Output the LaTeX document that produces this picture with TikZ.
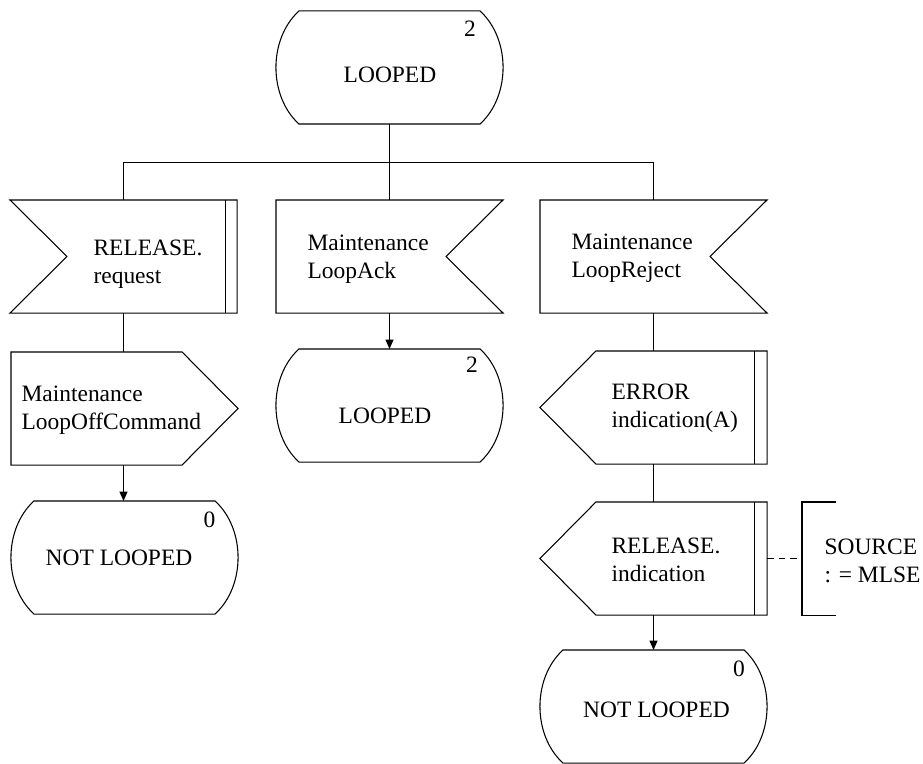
\documentclass[tikz,border=0pt]{standalone}
\usepackage{fontspec}
\setmainfont{Liberation Serif}
\usepackage{tikz}
\usetikzlibrary{positioning,calc,arrows.meta}

\begin{document}
\begin{tikzpicture}[
  x=0.75pt, y=-0.75pt,
  line width=0.8pt,
  every node/.style={font=\fontsize{17.6}{21}\selectfont, inner sep=0pt},
  symbox/.style={minimum width=169.5pt, minimum height=84pt},
  lbl/.style={align=left, anchor=west},
  flow/.style={-{Triangle[length=7pt,width=6pt]}},
  note/.style={dash pattern=on 5pt off 3.75pt}
]
  \useasboundingbox (0,0) rectangle (923,763);

  % symbol frames (outlines drawn further down)
  \node[symbox] (s0)   at (389.5,67.5) {};
  \node[symbox] (in1)  at (123.5,256.5) {};
  \node[symbox] (in2)  at (389.5,256.5) {};
  \node[symbox] (in3)  at (653.5,256.5) {};
  \node[symbox] (out1) at (124.5,408.5) {};
  \node[symbox] (s1)   at (389.5,405.5) {};
  \node[symbox] (s2)   at (124.5,557.5) {};
  \node[symbox] (err)  at (653.5,407.5) {};
  \node[symbox] (rel)  at (653.5,558.5) {};
  \node[symbox] (s3)   at (653.5,706.5) {};
  \node[minimum width=24.75pt, minimum height=84pt] (cmt) at (819,558.5) {};
  \coordinate (fork) at (389.5,162.5);

  % states
  \foreach \n in {s0,s1,s2,s3}
    \draw ($(\n.north west)+(23,0)$) -- ($(\n.north east)+(-23,0)$)
      .. controls +(30.7,28) and +(30.7,-28) .. ($(\n.south east)+(-23,0)$)
      -- ($(\n.south west)+(23,0)$)
      .. controls +(-30.7,-28) and +(-30.7,28) .. cycle;

  % inputs
  \draw (in1.north west) -- (in1.north east) -- (in1.south east) -- (in1.south west)
    -- ($(in1.west)+(57,0)$) -- cycle;
  \draw ($(in1.north east)+(-12,0)$) -- ($(in1.south east)+(-12,0)$);
  \foreach \n in {in2,in3}
    \draw (\n.north west) -- (\n.north east) -- ($(\n.east)+(-57,0)$)
      -- (\n.south east) -- (\n.south west) -- cycle;

  % outputs
  \draw (out1.north west) -- ($(out1.north east)+(-56,0)$) -- (out1.east)
    -- ($(out1.south east)+(-56,0)$) -- (out1.south west) -- cycle;
  \foreach \n in {err,rel} {
    \draw (\n.north east) -- ($(\n.north west)+(56,0)$) -- (\n.west)
      -- ($(\n.south west)+(56,0)$) -- (\n.south east) -- cycle;
    \draw ($(\n.north east)+(-13,0)$) -- ($(\n.south east)+(-13,0)$);
  }

  % comment bracket
  \draw (cmt.north east) -- (cmt.north west) -- (cmt.south west) -- (cmt.south east);

  % texts
  \node (s0t) at (390,75) {LOOPED};
  \node (s0n) at (470,29) {2};
  \node[lbl] (in1t) at (93,264.5) {RELEASE.\\request};
  \node[lbl] (in2t) at (307,259) {Maintenance\\LoopAck};
  \node[lbl] (in3t) at (571,258) {Maintenance\\LoopReject};
  \node[lbl] (out1t) at (21,410) {Maintenance\\LoopOffCommand};
  \node (s1t) at (385,415.5) {LOOPED};
  \node (s1n) at (472,365) {2};
  \node (s2t) at (119,557.5) {NOT LOOPED};
  \node (s2n) at (209.5,519.5) {0};
  \node[lbl] (errt) at (611,408.5) {ERROR\\indication(A)};
  \node[lbl] (relt) at (611,559.5) {RELEASE.\\indication};
  \node[lbl] (cmtt) at (824,560.5) {SOURCE\\: = MLSE};
  \node (s3t) at (656.5,709.5) {NOT LOOPED};
  \node (s3n) at (739,668.5) {0};

  % connections
  \draw (s0.south) -- (fork);
  \draw (in1.north) |- (fork) -| (in3.north);
  \draw (fork) -- (in2.north);
  \draw (in1.south) -- (out1.north -| in1.south);
  \draw[flow] (out1.south -| in1.south) -- (s2.north -| in1.south);
  \draw[flow] (in2.south) -- (s1.north);
  \draw (in3.south) -- (err.north -| in3.south);
  \draw (err.south) -- (rel.north);
  \draw[flow] (rel.south) -- (s3.north -| rel.south);
  \draw[note] (rel.east) -- (cmt.west);
\end{tikzpicture}
\end{document}
